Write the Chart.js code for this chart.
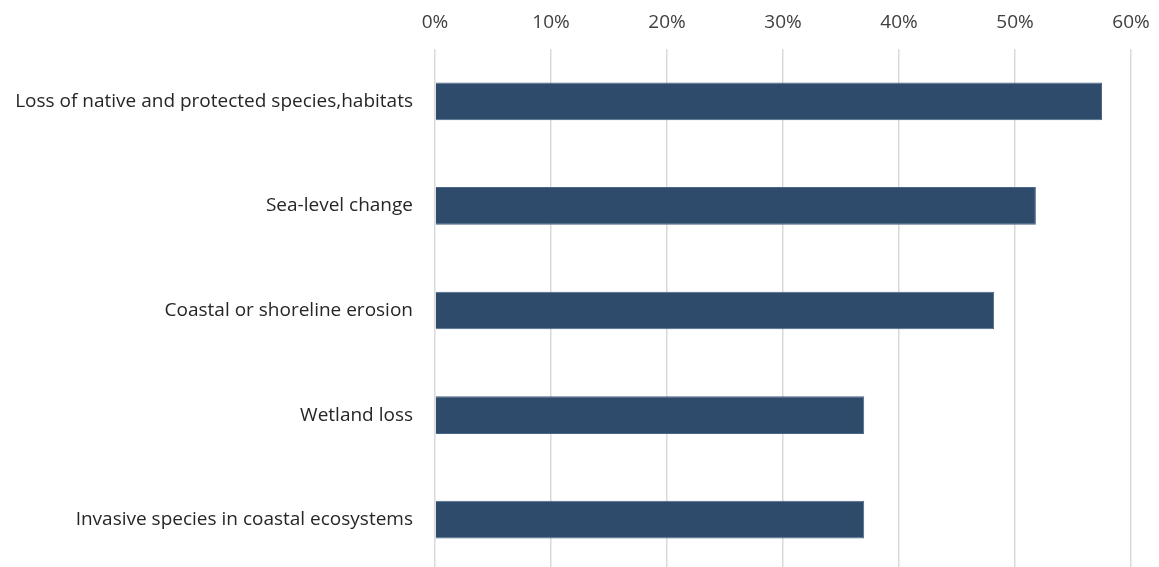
<!DOCTYPE html>
<html>
<head>
<meta charset="utf-8">
<script src="https://cdn.jsdelivr.net/npm/chart.js@4/dist/chart.umd.min.js"></script>
<style>
  html, body { margin: 0; padding: 0; background: #fff; overflow: hidden; }
  canvas { display: block; }
</style>
</head>
<body>
<canvas id="threatsChart" width="1159" height="572"></canvas>
<script>
// Amenazas costeras: porcentaje de respuestas
const categories = [
    'Loss of native and protected species,habitats',
    'Sea-level change',
    'Coastal or shoreline erosion',
    'Wetland loss',
    'Invasive species in coastal ecosystems'
];
const shares = [57.5, 51.8, 48.2, 37.0, 37.0];
const tickValues = [0, 10, 20, 30, 40, 50, 60];

document.addEventListener('DOMContentLoaded', function () {
    const ctx = document.getElementById('threatsChart');
    const font = { family: '"Open Sans", sans-serif', size: 19 };

    new Chart(ctx, {
        type: 'bar',
        data: {
            labels: categories,
            datasets: [{
                data: shares,
                backgroundColor: '#2F4B6C',
                borderColor: '#4A6585',
                borderWidth: 1,
                categoryPercentage: 1,
                barPercentage: 0.36
            }]
        },
        options: {
            indexAxis: 'y',
            responsive: false,
            animation: false,
            layout: { padding: { left: 0, right: 28, top: 0, bottom: 0 } },
            plugins: { legend: { display: false }, tooltip: { enabled: false } },
            scales: {
                x: {
                    position: 'top',
                    min: 0,
                    max: 60,
                    afterBuildTicks: function (scale) {
                        scale.ticks = tickValues.map(v => ({ value: v }));
                    },
                    afterFit: function (scale) {
                        scale.height = 49;
                        scale.paddingLeft = 0;
                        scale.paddingRight = 0;
                    },
                    ticks: {
                        color: '#404040',
                        font: font,
                        padding: 15,
                        callback: v => v + '%'
                    },
                    grid: { color: '#D9D9D9', lineWidth: 1.5, drawTicks: false },
                    border: { display: false }
                },
                y: {
                    afterFit: function (scale) {
                        scale.width = 435;
                        scale.paddingTop = 0;
                        scale.paddingBottom = 0;
                    },
                    ticks: { color: '#262626', font: font, padding: 14 },
                    grid: { display: false },
                    border: { display: false }
                }
            }
        }
    });
});
</script>
</body>
</html>
